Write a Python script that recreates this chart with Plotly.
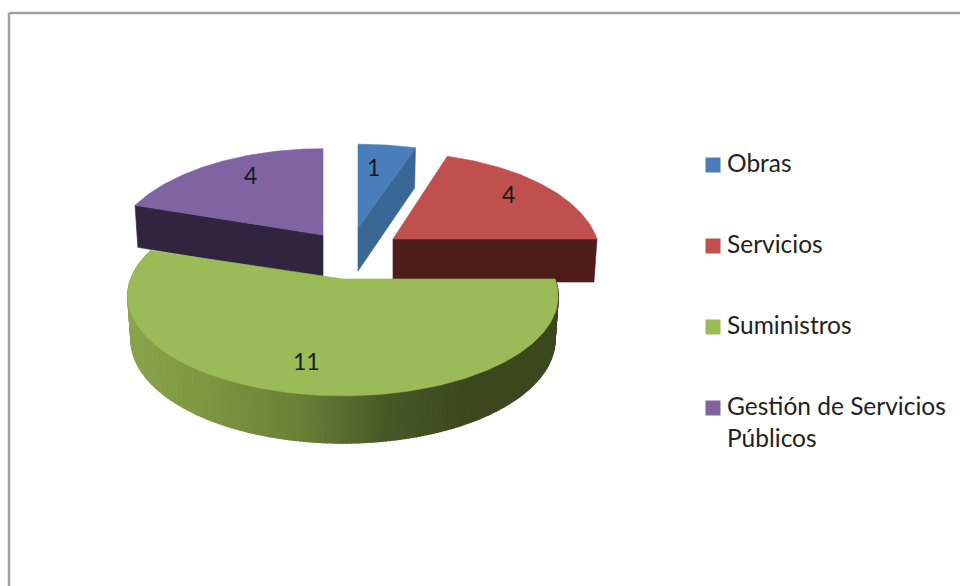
import math
import plotly.graph_objects as go

# Data
categories = ["Obras", "Servicios", "Suministros", "Gestión de Servicios<br>Públicos"]
values = [1, 4, 11, 4]

# Style / geometry (pixels of the 960x586 canvas)
top_colors = ["#4a7ebb", "#c0504d", "#9bbb59", "#8064a2"]
cut_colors = ["#3a6896", "#4e1c1a", None, "#31243f"]
centres = [(358, 228), (393, 239), (343, 279), (323, 235)]
radii = [(216, 98), (204, 101), (212, 97), (208, 101)]
label_xy = [(373, 167), (508, 194), (306, 361), (250, 175)]
legend_swatch_x = 713
legend_text_x = 727
legend_y = [165, 246, 327, 408]
legend_text_y = [162, 243, 324, 421]
PERSPECTIVE = 0.17
DEPTH = 43
GREEN_SIDE_STOPS = [(0.0, (139, 164, 76)), (0.18, (125, 150, 65)), (0.4, (105, 128, 55)),
                    (0.6, (72, 88, 38)), (0.8, (60, 72, 30)), (1.0, (60, 72, 30))]


def pt(i, deg, bottom=False):
    cx, cy = centres[i]
    rx, ry = radii[i]
    t = math.radians(deg)
    s = 1 / (1 + PERSPECTIVE * math.cos(t))
    if bottom:
        return cx + 0.985 * rx * math.sin(t) * s, cy + DEPTH - 1.035 * ry * math.cos(t) * s
    return cx + rx * math.sin(t) * s, cy - ry * math.cos(t) * s


def arc(i, a0, a1, bottom=False, n=80):
    return [pt(i, a0 + (a1 - a0) * k / n, bottom) for k in range(n + 1)]


def poly(fig, pts, color, width=0.6):
    xs = [p[0] for p in pts] + [pts[0][0]]
    ys = [p[1] for p in pts] + [pts[0][1]]
    fig.add_trace(go.Scatter(x=xs, y=ys, mode="lines", fill="toself", fillcolor=color,
                             line=dict(color=color, width=width), hoverinfo="skip", showlegend=False))


def side_color(u):
    for (u0, c0), (u1, c1) in zip(GREEN_SIDE_STOPS, GREEN_SIDE_STOPS[1:]):
        if u <= u1:
            f = (u - u0) / (u1 - u0)
            return "rgb(%d,%d,%d)" % tuple(round(a + (b - a) * f) for a, b in zip(c0, c1))
    return "rgb(60,72,30)"


total = sum(values)
spans = []
start = 0.0
for v in values:
    spans.append((start, start + 360.0 * v / total))
    start += 360.0 * v / total

fig = go.Figure()

# back slices first, Suministros last
for i in (0, 1, 3):
    a0, a1 = spans[i]
    apex_top = centres[i]
    apex_bot = (centres[i][0], centres[i][1] + DEPTH)
    edge = a0 if i == 3 else a1  # the cut face that can be seen
    poly(fig, [apex_top, pt(i, edge), pt(i, edge, True), apex_bot], cut_colors[i])
    poly(fig, [apex_top] + arc(i, a0, a1), top_colors[i])

# Suministros: curved side in fine strips, then the top face
a0, a1 = spans[2]
steps = 220
xmin, xmax = 128, 558
for k in range(steps):
    d0 = a0 + (a1 - a0) * k / steps
    d1 = a0 + (a1 - a0) * (k + 1) / steps
    mx = (pt(2, d0)[0] + pt(2, d1)[0]) / 2
    poly(fig, [pt(2, d0), pt(2, d1), pt(2, d1, True), pt(2, d0, True)],
         side_color(max(0, min(1, (mx - xmin) / (xmax - xmin)))), width=1.5)
poly(fig, [centres[2]] + arc(2, a0, a1, n=200), top_colors[2])

# legend: swatches and texts
for c, col, y, ty in zip(categories, top_colors, legend_y, legend_text_y):
    fig.add_trace(go.Scatter(x=[legend_swatch_x], y=[y], mode="markers", name=c.replace("<br>", " "),
                             marker=dict(symbol="square", size=15, color=col), showlegend=False))
    fig.add_annotation(x=legend_text_x, y=ty, text=c, showarrow=False, xref="x", yref="y",
                       xanchor="left", yanchor="middle", align="left", xshift=-2,
                       font=dict(family="Lato", size=24.5, color="#222222"))

for v, (x, y) in zip(values, label_xy):
    fig.add_annotation(x=x, y=y, text=str(v), showarrow=False, xref="x", yref="y",
                       font=dict(family="Lato", size=23, color="#1a1a1a"))

fig.update_layout(
    width=960, height=586, margin=dict(l=0, r=0, t=0, b=0), autosize=False,
    paper_bgcolor="white", plot_bgcolor="white", showlegend=False,
    xaxis=dict(range=[0, 960], visible=False, fixedrange=True),
    yaxis=dict(range=[586, 0], visible=False, fixedrange=True),
    shapes=[
        dict(type="line", xref="x", yref="y", x0=9, x1=960, y0=13, y1=13, line=dict(color="#a0a29e", width=2.5)),
        dict(type="line", xref="x", yref="y", x0=9, x1=9, y0=13, y1=586, line=dict(color="#a0a29e", width=2.5)),
    ],
)
fig.write_html("out.html", config={"displayModeBar": False},
               post_script="document.body.style.margin='0';document.body.style.overflow='hidden';")
